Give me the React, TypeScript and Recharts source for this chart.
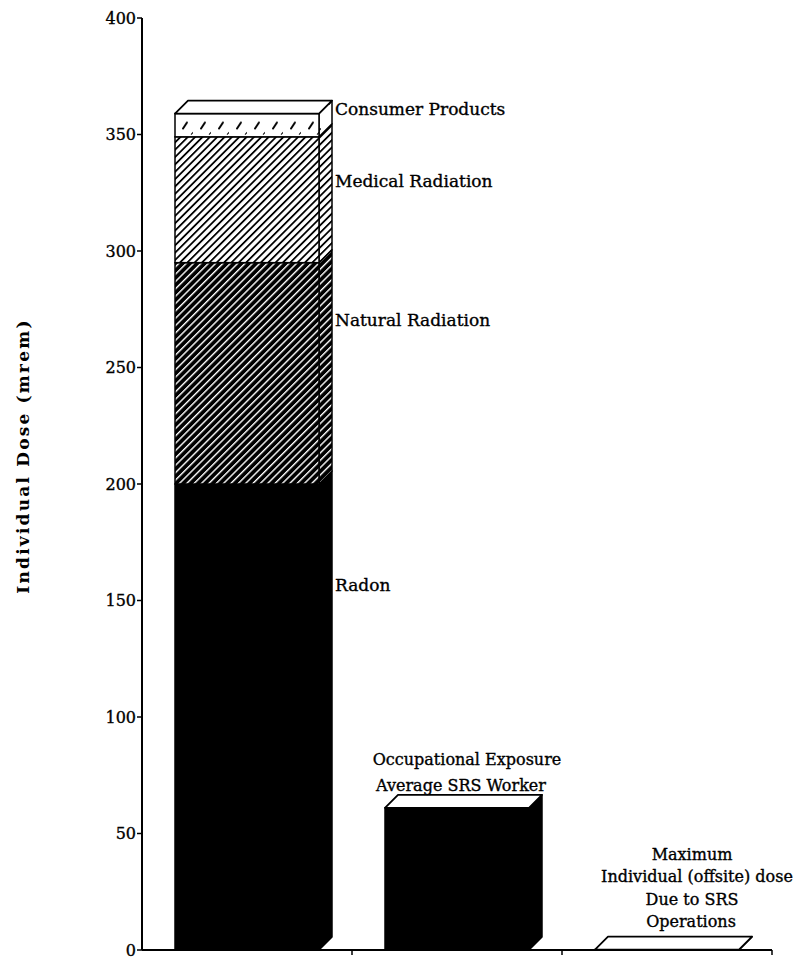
import React from 'react';
import { BarChart, Bar, XAxis, YAxis, LabelList, Label } from 'recharts';

// Annual individual dose, in mrem, by source
const categories = ['U.S. Average', 'SRS Worker', 'Offsite Maximum'];
const radon = [200, 0, 0];
const naturalRadiation = [95, 0, 0];
const medicalRadiation = [54, 0, 0];
const consumerProducts = [10, 0, 0];
const occupational = [0, 61, 0];
const offsiteMaximum = [0, 0, 0.2];
const yTicks = [0, 50, 100, 150, 200, 250, 300, 350, 400];

const data = categories.map((name, i) => ({
  name,
  radon: radon[i],
  natural: naturalRadiation[i],
  medical: medicalRadiation[i],
  consumer: consumerProducts[i],
  occupational: occupational[i],
  offsite: offsiteMaximum[i],
}));

const FONT = '"DejaVu Serif", "Liberation Serif", serif';
const DEPTH = 13;
const INK = { fill: '#000', stroke: '#000', strokeWidth: 0.35 };

type BlockProps = {
  x?: number;
  y?: number;
  width?: number;
  height?: number;
  front: string;
  side: string;
  top?: boolean;
};

// A bar segment drawn as a box: front face, right side face and optional lid
function Block(props: BlockProps) {
  const { x = 0, y = 0, width = 0, height = 0, front, side, top } = props;
  if (!(height > 0)) return null;
  const d = DEPTH;
  const r = x + width;
  const b = y + height;
  return (
    <g>
      <polygon
        points={`${r},${b} ${r + d},${b - d} ${r + d},${y - d} ${r},${y}`}
        fill={side}
        stroke="#000"
        strokeWidth={1.5}
        strokeLinejoin="round"
      />
      <rect x={x} y={y} width={width} height={height} fill={front} stroke="#000" strokeWidth={1.5} />
      {top && (
        <polygon
          points={`${x},${y} ${x + d},${y - d} ${r + d},${y - d} ${r},${y}`}
          fill="#fff"
          stroke="#000"
          strokeWidth={1.8}
          strokeLinejoin="round"
        />
      )}
    </g>
  );
}

const blockShape = (front: string, side: string, top = false) => (p: any) => (
  <Block {...p} front={front} side={side} top={top} />
);

// Source name written beside its segment of the first bar
const sideLabel = (text: string, dy: number) => (p: any) => {
  if (p.index !== 0) return null;
  return (
    <text x={p.x + p.width + DEPTH + 3} y={p.y + dy} fontFamily={FONT} fontSize={17} {...INK}>
      {text}
    </text>
  );
};

// Stacked caption lines above a bar
const captionLabel = (idx: number, lines: string[], dx: number[], firstDy: number, lineGap: number) => (p: any) => {
  if (p.index !== idx) return null;
  const cx = p.x + p.width / 2;
  return (
    <g>
      {lines.map((t, k) => (
        <text
          key={k}
          x={cx + dx[k]}
          y={p.y + firstDy + k * lineGap}
          textAnchor="middle"
          fontFamily={FONT}
          fontSize={16}
          {...INK}
        >
          {t}
        </text>
      ))}
    </g>
  );
};

// Small marks at the category boundaries along the base line
const edgeTick = (p: any) => {
  const n = p.visibleTicksCount || 3;
  const half = p.width / n / 2;
  const x = p.x + half;
  return <line x1={x} x2={x} y1={p.y} y2={p.y + 5} stroke="#000" strokeWidth={1.5} />;
};

export default function App() {
  return (
    <div style={{ position: 'absolute', left: 0, top: 0, width: 800, height: 959, background: '#fff' }}>
      <svg width={0} height={0} style={{ position: 'absolute' }}>
        <defs>
          <pattern id="hatchLight" patternUnits="userSpaceOnUse" width={5.2} height={5.2} patternTransform="rotate(45)">
            <rect width={5.2} height={5.2} fill="#fff" />
            <rect x={0} y={0} width={1.8} height={5.2} fill="#000" />
          </pattern>
          <pattern id="hatchDark" patternUnits="userSpaceOnUse" width={5.2} height={5.2} patternTransform="rotate(45)">
            <rect width={5.2} height={5.2} fill="#000" />
            <rect x={0} y={0} width={1.4} height={5.2} fill="#fff" />
          </pattern>
          <pattern id="dashes" patternUnits="objectBoundingBox" width={0.125} height={1}>
            <rect width={40} height={40} fill="#fff" />
            <path d="M8,15 L12,9" stroke="#000" strokeWidth={2} strokeLinecap="round" />
            <path d="M16,21 L18,19 L19,21" stroke="#000" strokeWidth={1} fill="none" />
          </pattern>
          <pattern id="dashesSide" patternUnits="userSpaceOnUse" width={13} height={30}>
            <rect width={13} height={30} fill="#fff" />
            <path d="M4,14 L8,9" stroke="#000" strokeWidth={2} strokeLinecap="round" />
          </pattern>
        </defs>
      </svg>
      <BarChart
        width={800}
        height={959}
        data={data}
        margin={{ top: 18, right: 28, bottom: 8, left: 0 }}
      >
        <XAxis
          dataKey="name"
          height={1}
          tickSize={0}
          tickMargin={0}
          tickLine={false}
          tick={edgeTick}
          axisLine={{ stroke: '#000', strokeWidth: 2 }}
        />
        <YAxis
          width={142}
          domain={[0, 400]}
          ticks={yTicks}
          interval={0}
          tickSize={5}
          tickMargin={1}
          axisLine={{ stroke: '#000', strokeWidth: 2 }}
          tickLine={{ stroke: '#000', strokeWidth: 1.5 }}
          tick={{ fontFamily: FONT, fontSize: 16, ...INK }}
        >
          <Label
            content={(p: any) => {
              const vb = p.viewBox;
              const cy = vb.y + vb.height / 2 - 28;
              return (
                <text
                  transform={`translate(${vb.x + 29}, ${cy}) rotate(-90)`}
                  textAnchor="middle"
                  fontFamily={FONT}
                  fontSize={17}
                  fontWeight="bold"
                  letterSpacing={2.2}
                  fill="#000"
                >
                  Individual Dose (mrem)
                </text>
              );
            }}
          />
        </YAxis>
        <Bar dataKey="radon" stackId="dose" barSize={144} isAnimationActive={false}
          shape={blockShape('#000', '#000')}>
          <LabelList content={sideLabel('Radon', 107)} />
        </Bar>
        <Bar dataKey="natural" stackId="dose" barSize={144} isAnimationActive={false}
          shape={blockShape('url(#hatchDark)', 'url(#hatchDark)')}>
          <LabelList content={sideLabel('Natural Radiation', 63)} />
        </Bar>
        <Bar dataKey="medical" stackId="dose" barSize={144} isAnimationActive={false}
          shape={blockShape('url(#hatchLight)', 'url(#hatchLight)')}>
          <LabelList content={sideLabel('Medical Radiation', 50)} />
        </Bar>
        <Bar dataKey="consumer" stackId="dose" barSize={144} isAnimationActive={false}
          shape={blockShape('url(#dashes)', 'url(#dashesSide)', true)}>
          <LabelList content={sideLabel('Consumer Products', 1)} />
        </Bar>
        <Bar dataKey="occupational" stackId="dose" barSize={144} isAnimationActive={false}
          shape={blockShape('#000', '#000', true)}>
          <LabelList content={captionLabel(1, ['Occupational Exposure', 'Average SRS Worker'], [10, 4], -43, 26)} />
        </Bar>
        <Bar dataKey="offsite" stackId="dose" barSize={144} isAnimationActive={false}
          shape={blockShape('#fff', '#fff', true)}>
          <LabelList
            content={captionLabel(
              2,
              ['Maximum', 'Individual (offsite) dose', 'Due to SRS', 'Operations'],
              [25, 30, 25, 24],
              -90,
              22.5
            )}
          />
        </Bar>
      </BarChart>
    </div>
  );
}
